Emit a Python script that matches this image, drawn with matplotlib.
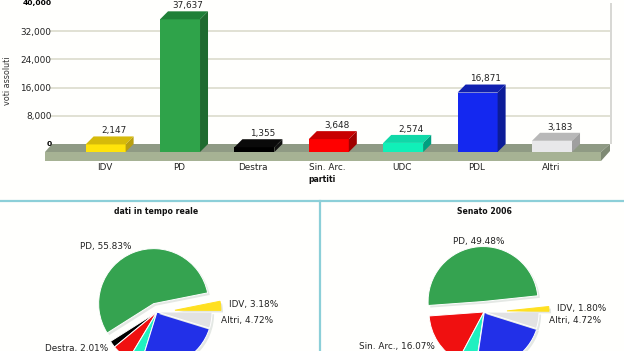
import matplotlib
matplotlib.use("Agg")
import matplotlib.pyplot as plt
import matplotlib.patheffects as pe
from matplotlib.patches import Polygon, Rectangle

W, H = 624, 351
categories = ["IDV", "PD", "Destra", "Sin. Arc.", "UDC", "PDL", "Altri"]
votes = [2147, 37637, 1355, 3648, 2574, 16871, 3183]
vote_labels = ["2,147", "37,637", "1,355", "3,648", "2,574", "16,871", "3,183"]
y_ticks = [0, 8000, 16000, 24000, 32000, 40000]
y_labels = ["0", "8,000", "16,000", "24,000", "32,000", "40,000"]
front = ["#FFE30A", "#2FA34A", "#000000", "#FF0000", "#10F0B8", "#1428F0", "#E8E8EA"]
top = ["#D6BA0A", "#1F8038", "#0A0A0A", "#C80000", "#10D8A8", "#1020B0", "#B8B8B8"]
side = ["#B89F10", "#1F6B30", "#111111", "#A00000", "#00A080", "#0C1C98", "#A0A0A0"]

pie_names = ["PD", "Destra", "Sin. Arc.", "UDC", "PDL", "Altri", "IDV"]
pie_left = [55.83, 2.01, 5.41, 3.82, 25.03, 4.72, 3.18]
pie_right = [49.48, 0.0, 16.07, 5.40, 22.53, 4.72, 1.80]
pie_colors = ["#35A350", "#000000", "#F01010", "#20F0C0", "#2230E8", "#E2E2E2", "#FFE020"]

TXT = "#222222"
FS = 6.4
plt.rcParams["font.family"] = "DejaVu Sans"
fig = plt.figure(figsize=(W / 100, H / 100), dpi=100, facecolor="#FFFFFD")

# pixel-coordinate layer: floor, wall, frame, pies, labels
px = fig.add_axes([0, 0, 1, 1], zorder=0)
px.set_axis_off()

def Y(y):
    return H - y

px.add_patch(Polygon([(45, Y(152)), (52, Y(144)), (610, Y(144)), (601, Y(152))], fc="#8F9A84", ec="none"))
px.add_patch(Rectangle((45, Y(161)), 556, 9, fc="#A6B294", ec="none"))
px.add_patch(Polygon([(601, Y(152)), (610, Y(144)), (610, Y(151)), (601, Y(161))], fc="#7F8A74", ec="none"))
px.add_patch(Rectangle((609.5, Y(144)), 2.5, 141, fc="#D8D8D4", ec="none"))
px.plot([0, W], [Y(200.5), Y(200.5)], color="#8CCFD8", lw=1.6)
px.plot([320, 320], [Y(200.5), 0], color="#8CCFD8", lw=1.6)

def draw_pie(vals, center, start, explode, idv_radius):
    wedges, _ = px.pie(vals, colors=pie_colors, startangle=start, counterclock=True,
                       radius=55, center=center, explode=explode, frame=False,
                       wedgeprops=dict(edgecolor="white", linewidth=0.7))
    for w in wedges:
        w.set_path_effects([pe.SimplePatchShadow(offset=(1.5, -1.5), shadow_rgbFace="#E4E8E4", alpha=1), pe.Normal()])
    wedges[-1].set_radius(idv_radius)
    wedges[-1].set_edgecolor(pie_colors[-1])
    return wedges

draw_pie(pie_left, (157, Y(312)), 11.3, [9, 0, 0, 0, 0, 0, 18], 46)
draw_pie(pie_right, (484, Y(312)), 6, [10.5, 0, 0, 0, 0.5, 0, 23], 42)
px.set_xlim(0, W)
px.set_ylim(0, H)
px.set_aspect("auto")

pie_texts = [
    (80, 246, "PD, 55.83%"), (229, 304.5, "IDV, 3.18%"), (221, 320.5, "Altri, 4.72%"),
    (45, 348, "Destra, 2.01%"), (453, 241.5, "PD, 49.48%"), (557, 308, "IDV, 1.80%"),
    (549, 320.5, "Altri, 4.72%"), (359, 346.5, "Sin. Arc., 16.07%"),
]
for x, y, s in pie_texts:
    px.text(x, Y(y), s, fontsize=FS, color=TXT, va="center", ha="left")
px.text(156.5, Y(212), "dati in tempo reale", fontsize=5.6, fontweight="bold", color="#111111", ha="center", va="center")
px.text(484.5, Y(212), "Senato 2006", fontsize=5.6, fontweight="bold", color="#111111", ha="center", va="center")
px.text(322, Y(179), "partiti", fontsize=5.6, fontweight="bold", color="#111111", ha="center", va="center")
px.text(8, Y(81), "voti assoluti", fontsize=5.8, color="#333333", rotation=90, ha="center", va="center")

# bar chart layer
L, R, T, B = 50, 610, 3, 144
ax = fig.add_axes([L / W, (H - B) / H, (R - L) / W, (B - T) / H], zorder=1)
ax.patch.set_alpha(0)
STEP = 74.4
ax.set_xlim((L - 104.5) / STEP, (R - 104.5) / STEP)
ax.set_ylim(0, 40000)
for s in ax.spines.values():
    s.set_visible(False)
ax.set_yticks(y_ticks)
ax.set_yticklabels(y_labels, fontsize=FS, color=TXT)
for i in (0, -1):
    lab = ax.get_yticklabels()[i]
    lab.set_fontweight("bold")
    lab.set_fontsize(5.4)
    lab.set_color("#000000")
ax.set_xticks(range(len(categories)))
ax.set_xticklabels(categories, fontsize=FS, color=TXT)
ax.tick_params(axis="both", length=0)
ax.tick_params(axis="y", pad=-1)
ax.tick_params(axis="x", pad=13.5)
ax.grid(axis="y", color="#DCDCCC", lw=1.2)
ax.set_axisbelow(True)
ax.get_ygridlines()[-1].set_visible(False)
ax.get_ygridlines()[0].set_visible(False)

dx = 8 / STEP
dy = 8 * 40000 / (B - T)
bw = 40 / STEP
xs = [i + 0.015 for i in range(len(votes))]
ax.bar(xs, votes, width=bw, bottom=-dy, color=front, clip_on=False, zorder=3)
for x, v, t, s, lab in zip(xs, votes, top, side, vote_labels):
    l, r = x - bw / 2, x + bw / 2
    yt = v - dy
    ax.add_patch(Polygon([(l, yt), (l + dx, v), (r + dx, v), (r, yt)], fc=t, ec="none", clip_on=False, zorder=3))
    ax.add_patch(Polygon([(r, -dy), (r + dx, 0), (r + dx, v), (r, yt)], fc=s, ec="none", clip_on=False, zorder=3))
    ax.annotate(lab, (x + dx, v), xytext=(0, 0.8), textcoords="offset points", fontsize=FS,
                color=TXT, ha="center", va="bottom", annotation_clip=False, zorder=4)

fig.savefig("out.png", dpi=100, facecolor=fig.get_facecolor())
